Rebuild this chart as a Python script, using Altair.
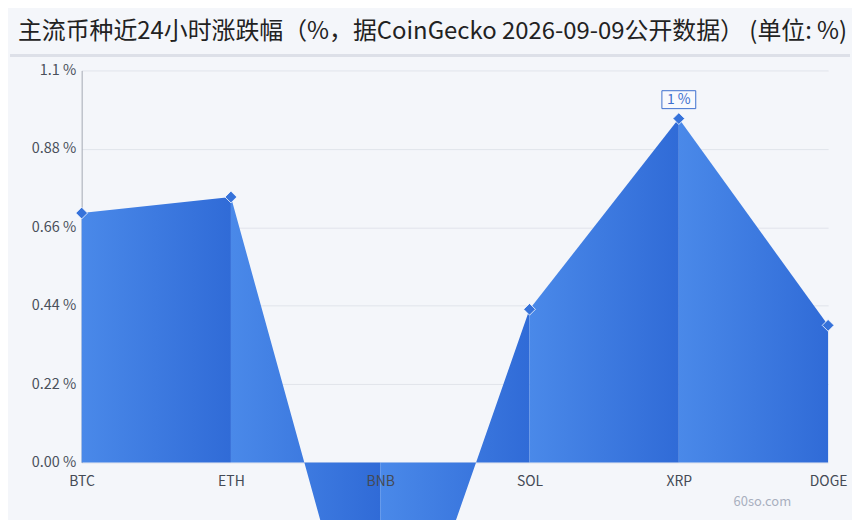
import altair as alt
import pandas as pd

symbols = ["BTC", "ETH", "BNB", "SOL", "XRP", "DOGE"]
changes = [0.70, 0.745, -0.77, 0.43, 0.965, 0.385]
y_ticks = [0, 0.22, 0.44, 0.66, 0.88, 1.1]
title_text = "主流币种近24小时涨跌幅（%，据CoinGecko 2026-09-09公开数据） (单位: %)"
watermark = "60so.com"

FONT = "Noto Sans CJK SC"

seg_rows = []
for i in range(len(symbols) - 1):
    for j in (i, i + 1):
        seg_rows.append({"seg": i, "sym": symbols[j], "v": changes[j]})
seg_df = pd.DataFrame(seg_rows)
pt_df = pd.DataFrame({"sym": symbols, "v": changes})

x_axis = alt.Axis(title=None, labelAngle=0, ticks=False, grid=False, zindex=1, domain=False,
                  labelColor="#444a55", labelFontSize=14, labelPadding=12,
                  labelFont=FONT)
y_axis = alt.Axis(title=None, values=y_ticks, ticks=False, grid=True, gridColor="#e1e4eb",
                  domainColor="#a3a8b2", labelColor="#4a505a", labelFontSize=14.5,
                  labelPadding=6, labelFont=FONT,
                  labelExpr="datum.value == 0 ? '0.00 %' : format(datum.value, '.2~f') + ' %'")

X = alt.X("sym:N", sort=symbols, scale=alt.Scale(type="point", padding=0), axis=x_axis)
Y = alt.Y("v:Q", stack=None, scale=alt.Scale(domain=[0, 1.1], nice=False, zero=False), axis=y_axis)

grad = alt.Gradient(
    gradient="linear",
    stops=[alt.GradientStop(color="#4a89e9", offset=0),
           alt.GradientStop(color="#306bd7", offset=1)],
    x1=0, x2=1, y1=0, y2=0,
)

area = alt.Chart(seg_df).mark_area(color=grad, interpolate="linear").encode(
    x=X, y=Y, y2=alt.datum(0), detail="seg:N"
)

points = alt.Chart(pt_df).mark_point(
    shape="diamond", filled=True, size=140, fill="#3672da", stroke="white",
    strokeWidth=0.8, opacity=1
).encode(x=X, y=Y)

box_path = "M-1.7,-0.9L1.7,-0.9L1.7,0.9L-1.7,0.9Z"
label_base = alt.Chart(pt_df).transform_joinaggregate(vmax="max(v)").transform_filter(
    "datum.v == datum.vmax"
).transform_calculate(label="format(datum.v, '.0f') + ' %'")

label_box = label_base.mark_point(
    shape=box_path, size=400, filled=True, fill="#f8f9fd", stroke="#3d6fcf",
    strokeWidth=1, opacity=1, yOffset=-19
).encode(x=X, y=Y)

label_text = label_base.mark_text(
    yOffset=-19, color="#3d6fcf", fontSize=14, font=FONT, baseline="middle"
).encode(x=X, y=Y, text="label:N")

sep = alt.Chart(alt.Data(values=[{}])).mark_rule(color="#dde0e8", strokeWidth=3).encode(
    x=alt.value(-72), x2=alt.value(772), y=alt.value(-15)
)

wm = alt.Chart(alt.Data(values=[{"t": watermark}])).mark_text(
    align="left", baseline="middle", fontSize=13, color="#a9b0bf", font=FONT
).encode(x=alt.value(655), y=alt.value(434), text="t:N")

chart = alt.layer(sep, area, points, label_box, label_text, wm).properties(
    width=750,
    height=394,
    title=alt.TitleParams(
        text=title_text, anchor="start", frame="group", dx=-64, offset=10,
        fontSize=24, font=FONT, fontWeight="normal", color="#222222",
    ),
    padding={"left": 0, "top": 10, "right": 0, "bottom": 0},
    background="#f4f6fa",
).configure_view(stroke=None)

chart.save("out.html", embed_options={"renderer": "svg", "actions": False})
